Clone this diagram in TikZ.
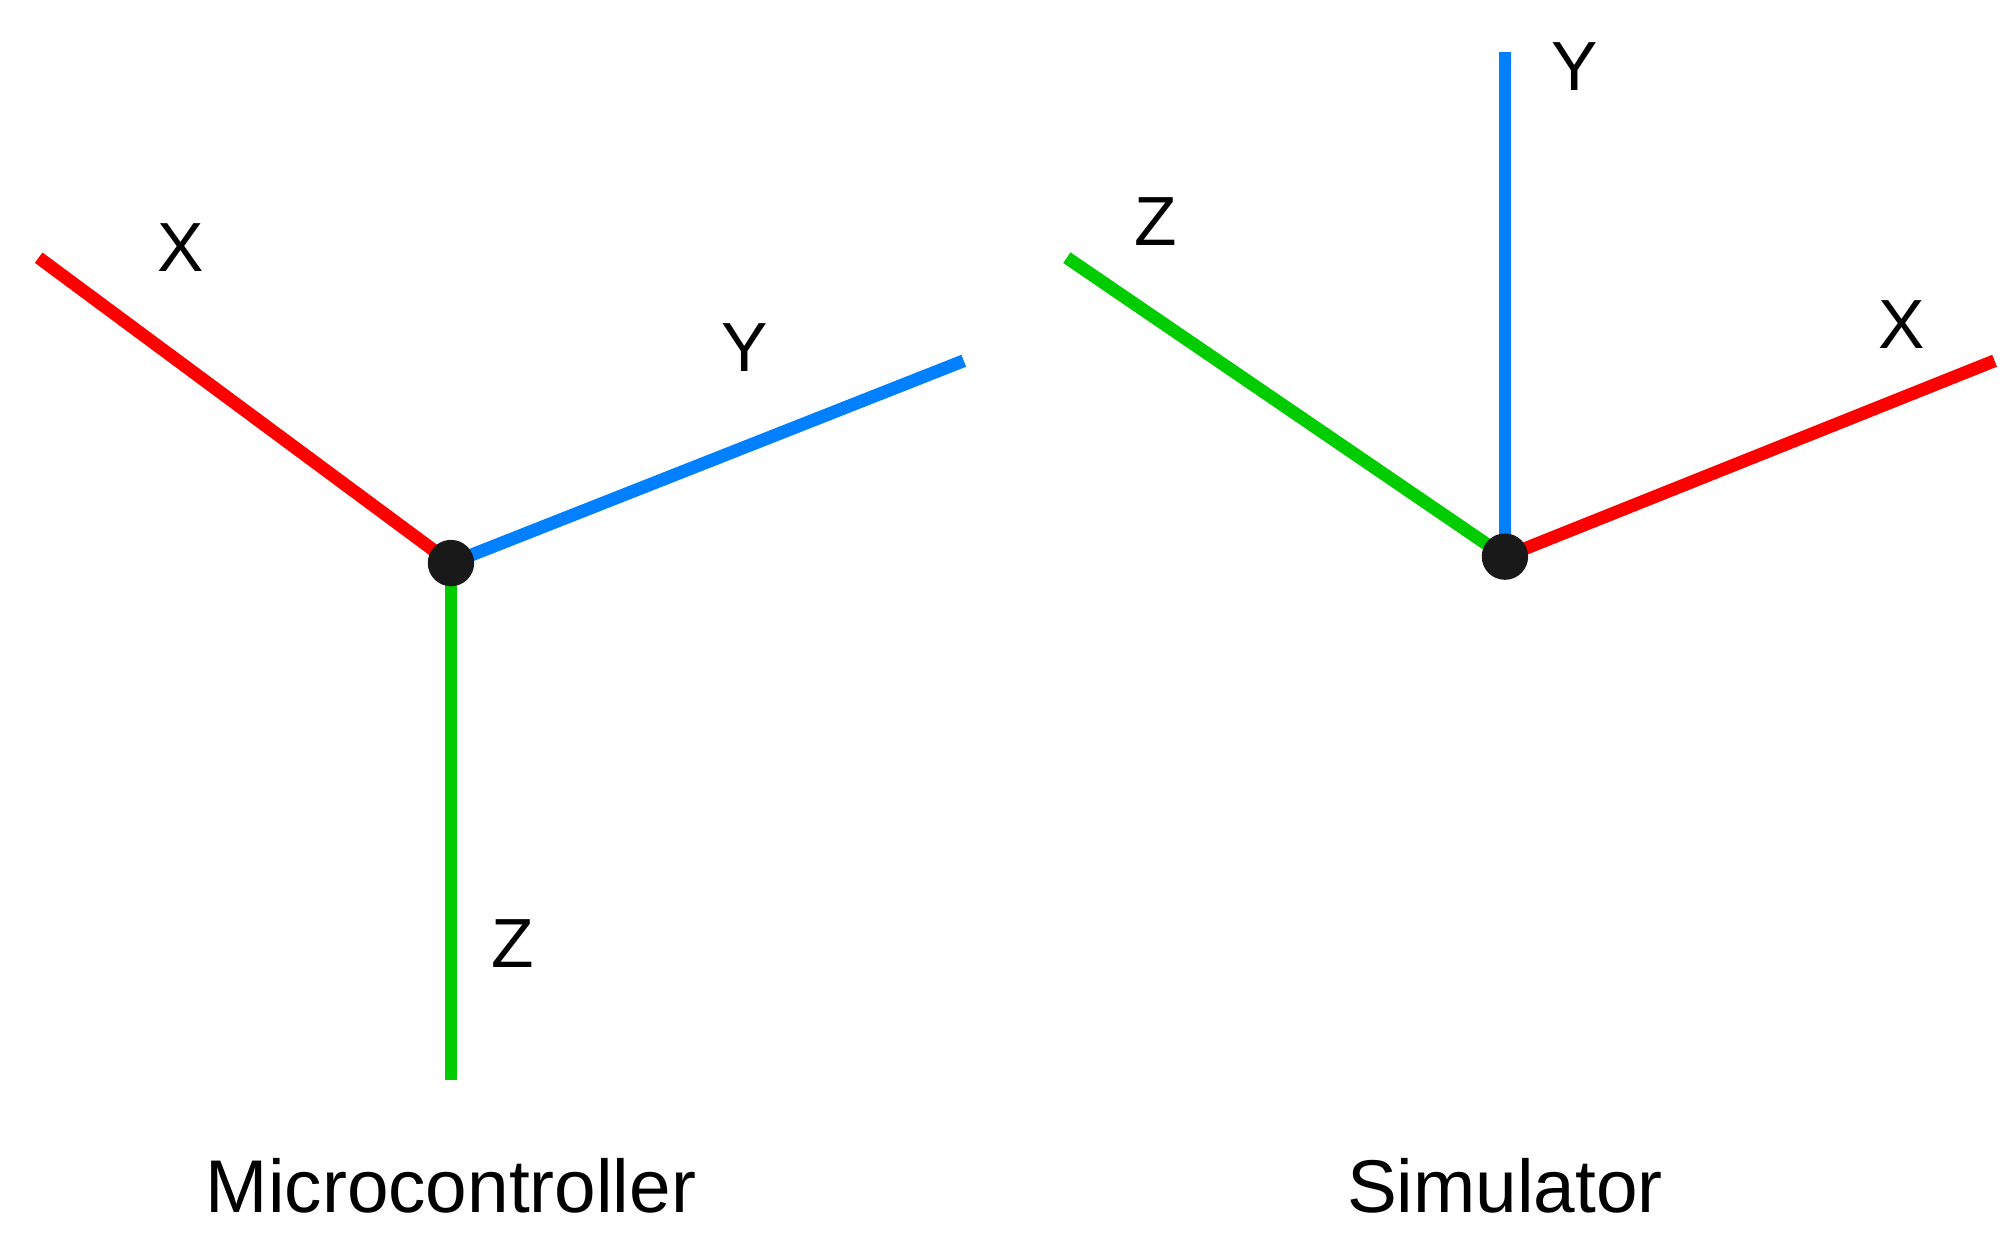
\documentclass[tikz,border=0pt]{standalone}
\usepackage{fontspec}
\setmainfont{Liberation Sans}
\definecolor{axr}{RGB}{255,0,0}
\definecolor{axb}{RGB}{0,128,255}
\definecolor{axg}{RGB}{0,204,0}
\begin{document}
\begin{tikzpicture}[x=1pt,y=-1pt,
  axis/.style={line width=10pt},
  lbl/.style={font=\fontsize{54}{60}\selectfont},
  captext/.style={font=\fontsize{58}{64}\selectfont},
  dot/.style={circle,fill=black!90,minimum size=36pt,inner sep=0pt}]
\useasboundingbox (0,0) rectangle (1560,971);
\coordinate (lc) at (350,437);
\coordinate (lx) at (30,200);
\coordinate (ly) at (748,280);
\coordinate (lz) at (350,838);
\draw[axis,axr] (lc) -- (lx);
\draw[axis,axb] (lc) -- (ly);
\draw[axis,axg] (lc) -- (lz);
\node[dot] (ld) at (lc) {};
\node[lbl] (tx1) at (140,192) {X};
\node[lbl] (ty1) at (578,270) {Y};
\node[lbl] (tz1) at (398,732) {Z};
\node[captext] (t1) at (350,920) {Microcontroller};
\coordinate (rc) at (1168,432);
\coordinate (ry) at (1168,40);
\coordinate (rz) at (828,200);
\coordinate (rx) at (1548,280);
\draw[axis,axb] (rc) -- (ry);
\draw[axis,axg] (rc) -- (rz);
\draw[axis,axr] (rc) -- (rx);
\node[dot] (rd) at (rc) {};
\node[lbl] (ty2) at (1222,52) {Y};
\node[lbl] (tz2) at (897,172) {Z};
\node[lbl] (tx2) at (1476,252) {X};
\node[captext] (t2) at (1168,920) {Simulator};
\end{tikzpicture}
\end{document}
